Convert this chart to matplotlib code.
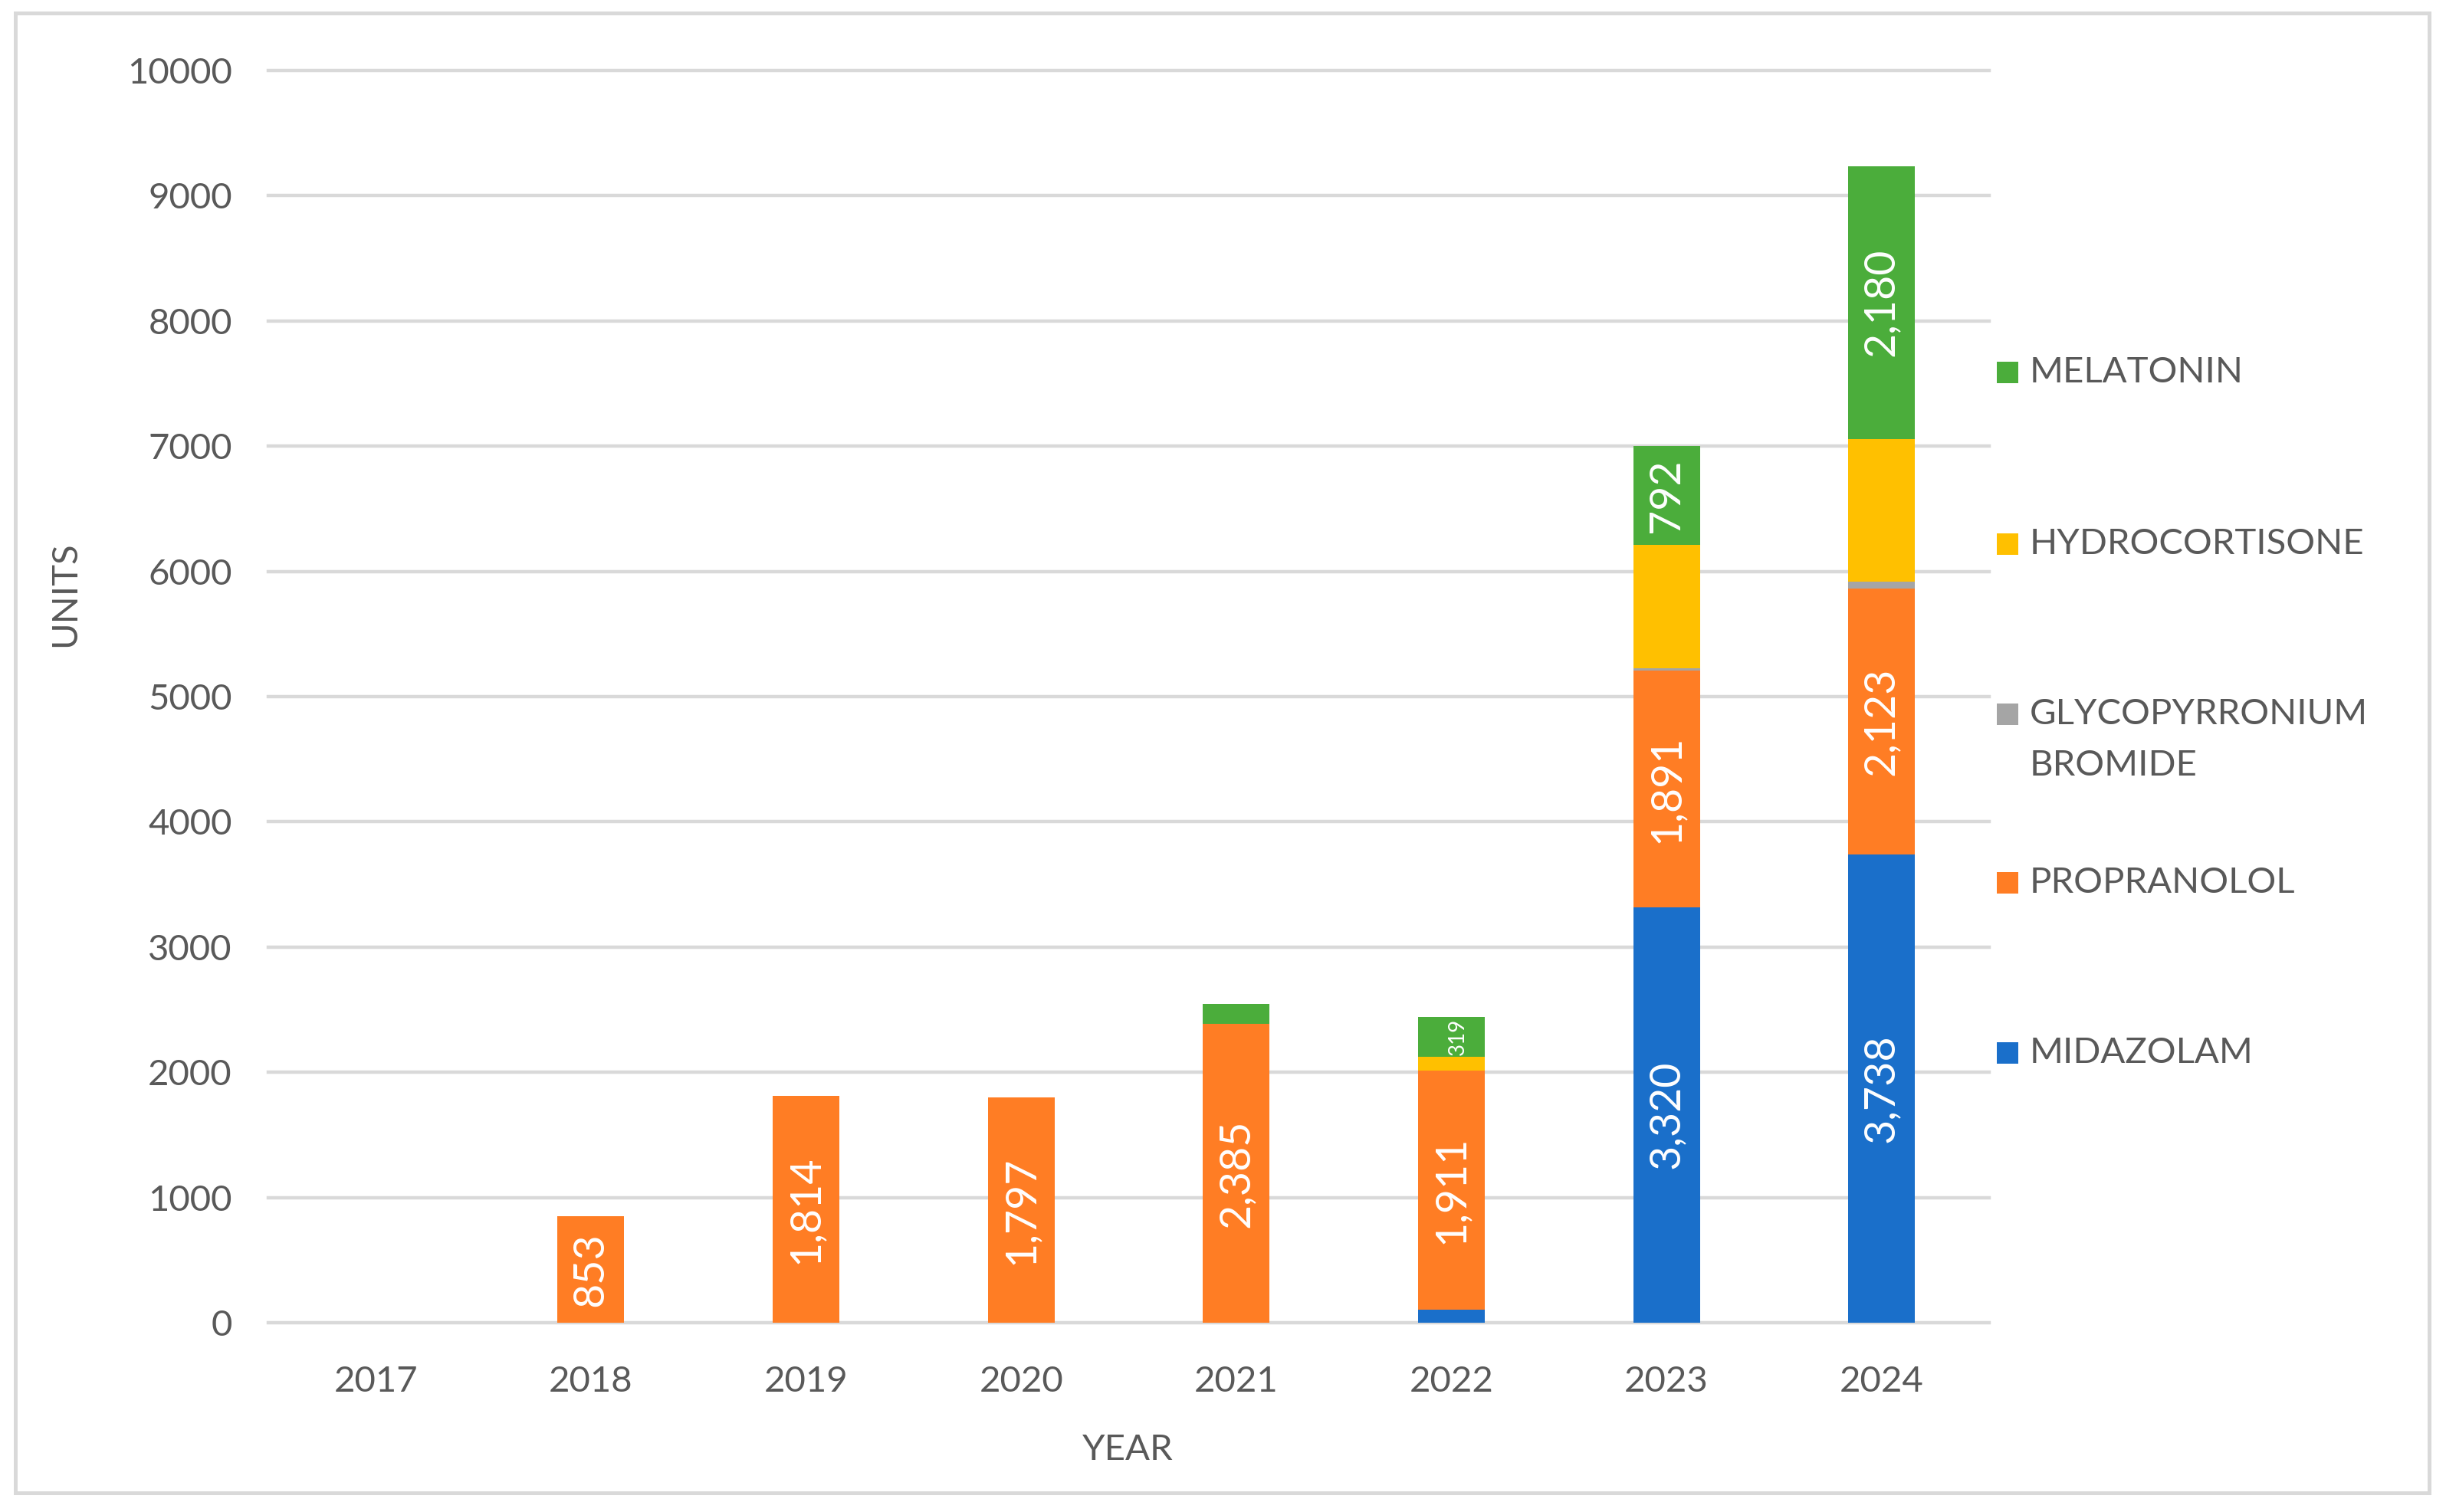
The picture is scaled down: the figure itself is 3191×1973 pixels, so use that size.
import matplotlib
matplotlib.use("Agg")
import matplotlib.pyplot as plt
from matplotlib.patches import Rectangle
import numpy as np

plt.rcParams['font.family'] = ['Lato', 'DejaVu Sans']

years = ["2017", "2018", "2019", "2020", "2021", "2022", "2023", "2024"]
series_names = ["MIDAZOLAM", "PROPRANOLOL", "GLYCOPYRRONIUM\nBROMIDE", "HYDROCORTISONE", "MELATONIN"]
midazolam      = [0, 0, 0, 0, 0, 105, 3320, 3738]
propranolol    = [0, 853, 1814, 1797, 2385, 1911, 1891, 2123]
glycopyrronium = [0, 0, 0, 0, 0, 0, 15, 60]
hydrocortisone = [0, 0, 0, 0, 0, 105, 984, 1136]
melatonin      = [0, 0, 0, 0, 160, 319, 792, 2180]
series_values = [midazolam, propranolol, glycopyrronium, hydrocortisone, melatonin]
colors = ["#1A6FCA", "#FF7D24", "#A5A5A5", "#FFC000", "#4BAD3B"]
# segments that carry a data label (series index, year index)
labelled = {(1, 1), (1, 2), (1, 3), (1, 4), (1, 5), (4, 5),
            (0, 6), (1, 6), (4, 6), (0, 7), (1, 7), (4, 7)}
yticks = [0, 1000, 2000, 3000, 4000, 5000, 6000, 7000, 8000, 9000, 10000]

W, H = 3191, 1973
fig = plt.figure(figsize=(W / 200, H / 200), dpi=200)
fig.patch.set_facecolor("white")
ax = fig.add_axes([350 / W, 1 - 1726 / H, (2595 - 350) / W, (1726 - 92) / H])

text_col = "#595959"
x = np.arange(len(years))
bottom = np.zeros(len(years))
for si, (vals, col) in enumerate(zip(series_values, colors)):
    vals = np.array(vals, dtype=float)
    ax.bar(x, vals, 0.31, bottom=bottom, color=col, zorder=3, linewidth=0)
    for yi, (b, v) in enumerate(zip(bottom, vals)):
        if (si, yi) in labelled and v > 0:
            small = v < 500
            ax.text(x[yi] + (0.03 if small else 0), b + v / 2, f"{int(v):,}",
                    rotation=90, ha="center", va="center", color="white",
                    fontsize=10 if small else 20, zorder=4)
    bottom += vals

ax.set_xlim(-0.5, len(years) - 0.5)
ax.set_ylim(0, 10000)
ax.set_yticks(yticks)
ax.set_yticklabels([str(t) for t in yticks])
ax.set_xticks(x)
ax.set_xticklabels(years)
ax.tick_params(axis="both", length=0, labelsize=17, labelcolor=text_col)
ax.tick_params(axis="y", pad=17)
ax.tick_params(axis="x", pad=20)
for s in ax.spines.values():
    s.set_visible(False)
ax.yaxis.grid(True, color="#D9D9D9", linewidth=1.6, zorder=0)
for gl in ax.get_ygridlines():
    gl.set_clip_on(False)
ax.set_axisbelow(True)

fig.text(1471 / W, 1 - 1892 / H, "YEAR", ha="center", va="center",
         fontsize=17, color=text_col)
fig.text(85 / W, 1 - 775 / H, "UNITS", ha="center", va="center",
         rotation=90, fontsize=17, color=text_col)

# legend (top to bottom: reverse series order)
leg_y = [486, 710, 932, 1152, 1374]
for name, col, yc in zip(series_names[::-1], colors[::-1], leg_y):
    fig.patches.append(Rectangle((2605 / W, 1 - (yc + 14) / H), 28 / W, 28 / H,
                                 transform=fig.transFigure, facecolor=col,
                                 edgecolor="none"))
    for li, ln in enumerate(name.split("\n")):
        fig.text(2648 / W, 1 - (yc + li * 67) / H, ln, ha="left", va="center",
                 fontsize=17, color=text_col)

# outer border
fig.patches.append(Rectangle((20 / W, 1 - 1948 / H), (3169 - 20) / W, (1948 - 17) / H,
                             transform=fig.transFigure, facecolor="none",
                             edgecolor="#D9D9D9", linewidth=1.8))

fig.savefig("out.png", dpi=200, facecolor="white")
